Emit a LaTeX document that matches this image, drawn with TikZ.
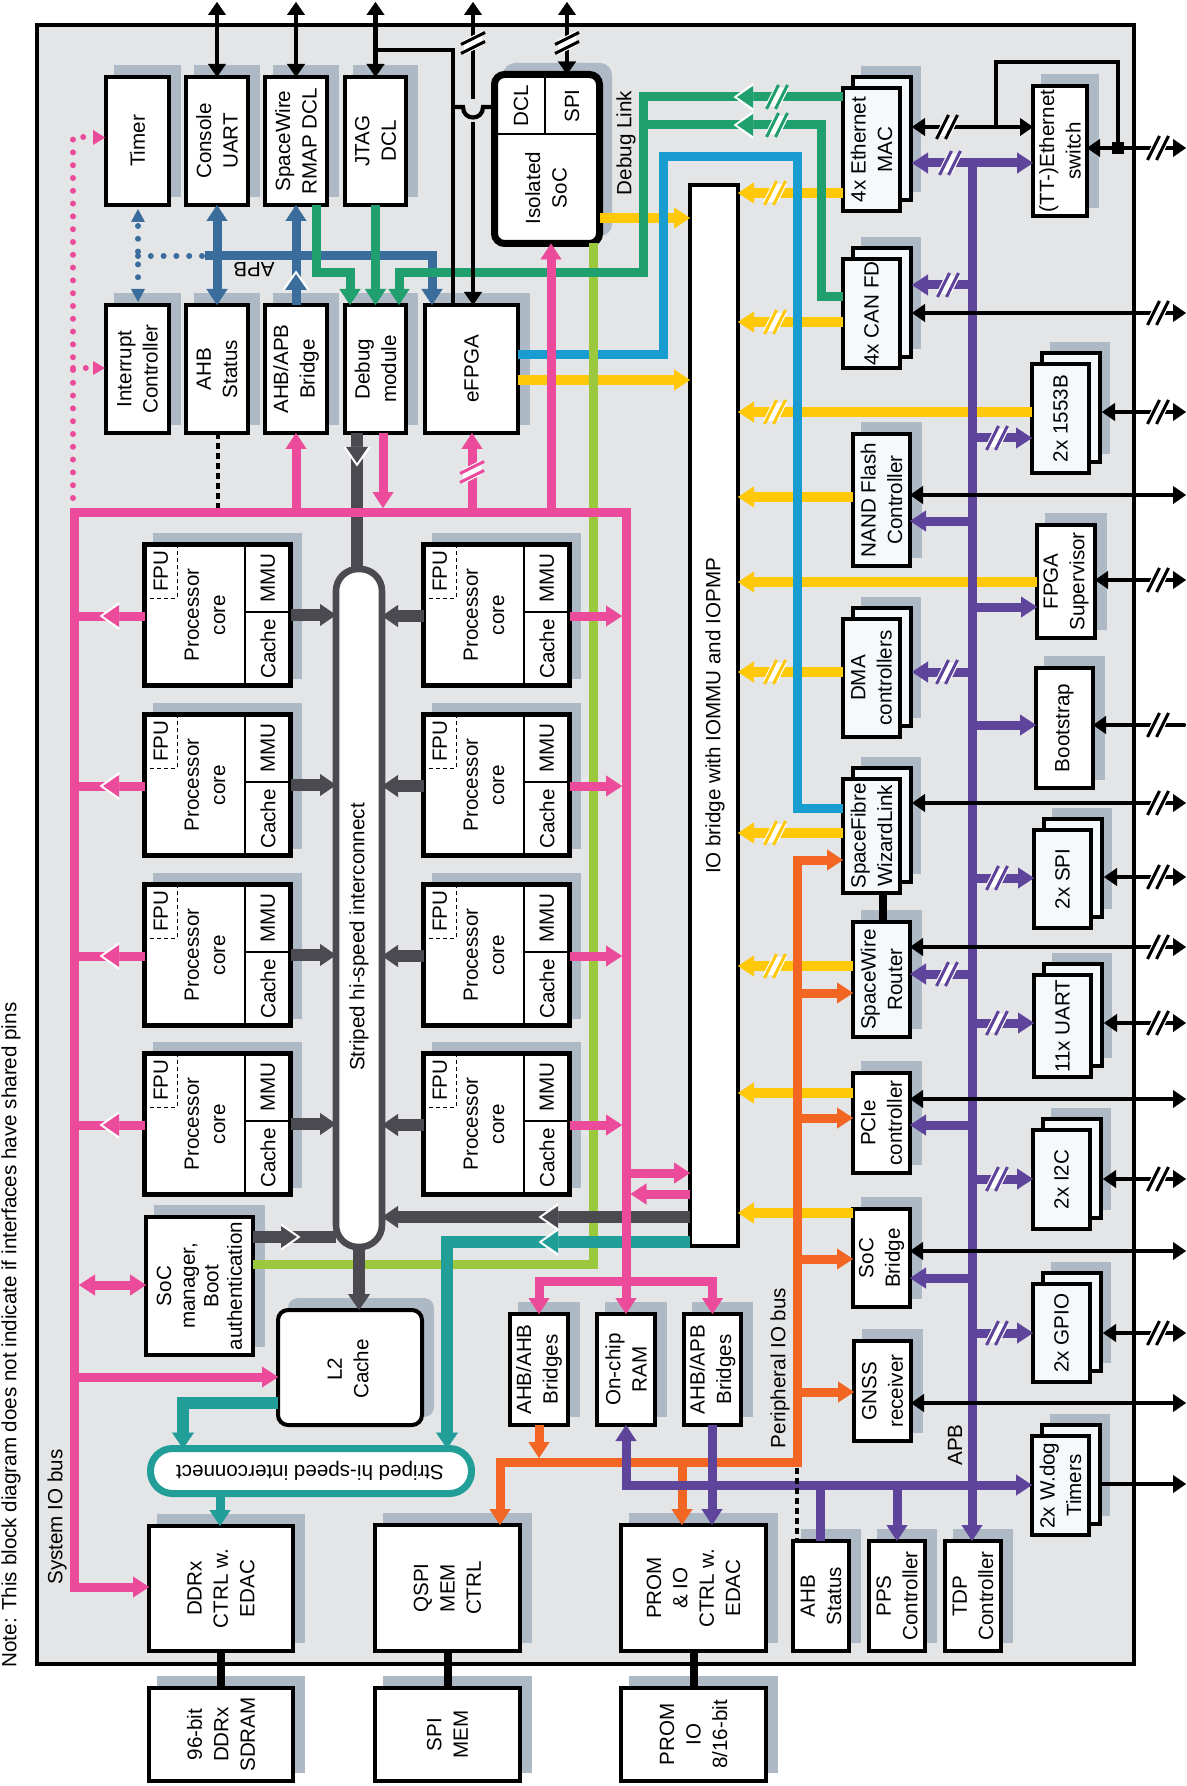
\documentclass[tikz,border=0pt]{standalone}
\usepackage{fontspec}
\setmainfont{Liberation Sans}
\usetikzlibrary{arrows.meta}
\definecolor{chipbg}{HTML}{E4E5E7}
\definecolor{shad}{HTML}{ADBAC6}
\definecolor{pinkc}{HTML}{EC4B9B}
\definecolor{darkc}{HTML}{4A4A50}
\definecolor{limec}{HTML}{9BC83C}
\definecolor{greenc}{HTML}{1FA06E}
\definecolor{cyanc}{HTML}{199DD1}
\definecolor{yelc}{HTML}{FFC808}
\definecolor{orc}{HTML}{F26522}
\definecolor{purc}{HTML}{5F449B}
\definecolor{tealc}{HTML}{229E99}
\definecolor{bluec}{HTML}{3A6D9B}
\definecolor{paleb}{HTML}{F6F9FC}
\newcommand\myfs{\fontsize{10.3}{13.2}\selectfont}
\tikzset{
 Tb/.tip={Triangle[width=10.5pt,length=8pt,line width=0.1pt]},
 Tk/.tip={Triangle[width=9pt,length=6.5pt,line width=0.1pt]},
 Td/.tip={Triangle[width=11pt,length=8pt,line width=0.1pt]},
 bx/.style={draw, line width=2pt, fill=white, inner sep=0pt, outer sep=0pt, anchor=north west},
 lbl/.style={rotate=90, align=center, font=\myfs, inner sep=0pt},
 lblz/.style={align=center, font=\myfs, inner sep=0pt},
 pk/.style={draw=pinkc, line width=4.5pt},
 lm/.style={draw=limec, line width=4.5pt},
 gr/.style={draw=greenc, line width=4.5pt},
 cy/.style={draw=cyanc, line width=4.5pt},
 yl/.style={draw=yelc, line width=5pt},
 bl/.style={draw=bluec, line width=4.5pt},
 dk/.style={draw=darkc, line width=6pt},
 tl/.style={draw=tealc, line width=6pt},
 orn/.style={draw=orc, line width=4.5pt},
 pu/.style={draw=purc, line width=4.5pt},
 bk/.style={draw=black, line width=2.1pt},
 dots/.style={line width=3pt, line cap=round, dash pattern=on 0pt off 6.4pt},
}
% box: name x1 y1 x2 y2 text (outer edges in px)
\newcommand\Bx[7][white]{%
 \fill[shad] (#3+10,#4-10) rectangle (#5+10,#6-10);
 \node[bx, fill=#1, minimum width={(#5-#3-4)*0.5pt}, minimum height={(#6-#4-4)*0.5pt}] (#2) at (#3+2,#4+2) {};
 \node[lbl] (#2-t) at (#2.center) {#7};}
% stacked box
\newcommand\SBx[6]{%
 \fill[shad] (#2+20,#3-20) rectangle (#4+19,#5-21);
 \draw[line width=1.8pt, fill=paleb] (#2+12,#3-9) rectangle (#4+9,#5-13);
 \node[bx, fill=paleb, minimum width={(#4-#2-4)*0.5pt}, minimum height={(#5-#3-4)*0.5pt}] (#1) at (#2+2,#3+2) {};
 \node[lbl] (#1-t) at (#1.center) {#6};}
% processor core
\newcommand\Core[3]{%
 \fill[shad] (#2+11,#3-9) rectangle (#2+160,#3+137);
 \node[bx, line width=2.5pt, minimum width=73pt, minimum height=70.5pt] (#1) at (#2+2.5,#3+2.5) {};
 \draw[line width=0.7pt] (#2+103,#3+3) -- (#2+103,#3+143);
 \draw[line width=0.7pt] (#2+103,#3+70) -- (#2+148,#3+70);
 \draw[line width=0.5pt, dash pattern=on 2pt off 1.5pt] (#2+8,#3+56) -- (#2+35,#3+56) -- (#2+35,#3+4);
 \node[lbl] at (#2+19,#3+29) {FPU};
 \node[lbl] at (#2+63,#3+73) {Processor\\core};
 \node[lbl] at (#2+126,#3+36) {MMU};
 \node[lbl] at (#2+126,#3+107) {Cache};}
% mid arrow heads with white edge
\newcommand\mhL[3]{\fill[white] (#1-3.5,#2) -- (#1+16,#2-14) -- (#1+16,#2+14) -- cycle; \fill[#3] (#1,#2) -- (#1+16,#2-11) -- (#1+16,#2+11) -- cycle;}
\newcommand\mhR[3]{\fill[white] (#1+3.5,#2) -- (#1-16,#2-14) -- (#1-16,#2+14) -- cycle; \fill[#3] (#1,#2) -- (#1-16,#2-11) -- (#1-16,#2+11) -- cycle;}
\newcommand\mhU[3]{\fill[white] (#1,#2-3.5) -- (#1-14,#2+16) -- (#1+14,#2+16) -- cycle; \fill[#3] (#1,#2) -- (#1-11,#2+16) -- (#1+11,#2+16) -- cycle;}
\newcommand\mhD[3]{\fill[white] (#1,#2+3.5) -- (#1-14,#2-16) -- (#1+14,#2-16) -- cycle; \fill[#3] (#1,#2) -- (#1-11,#2-16) -- (#1+11,#2-16) -- cycle;}
% break marks
\newcommand\mkH[3]{\fill[white] (#1-12,#2+9) -- (#1-3,#2-9) -- (#1+12,#2-9) -- (#1+3,#2+9) -- cycle;
 \draw[#3, line width=1.5pt] (#1-10.5,#2+12) -- (#1+1.5,#2-12) (#1-1.5,#2+12) -- (#1+10.5,#2-12);}
\newcommand\mkV[3]{\fill[white] (#1-9,#2+12) -- (#1+9,#2+3) -- (#1+9,#2-12) -- (#1-9,#2-3) -- cycle;
 \draw[#3, line width=1.5pt] (#1-12,#2+1.5) -- (#1+12,#2-10.5) (#1-12,#2+10.5) -- (#1+12,#2-1.5);}

\begin{document}
\begin{tikzpicture}[x=0.5pt,y=-0.5pt]
\useasboundingbox (0,0) rectangle (1187,1786);
% chip
\draw[line width=2.4pt, fill=chipbg] (37,25) rectangle (1134,1664);
\node[lbl] (note) at (11,1335) {Note: This block diagram does not indicate if interfaces have shared pins};

% ---------- top-left blocks
\Bx{timer}{104}{75}{171}{207}{Timer}
\Bx{cuart}{184}{75}{250}{207}{Console\\UART}
\Bx{swdcl}{263}{75}{329}{207}{SpaceWire\\RMAP DCL}
\Bx{jtag}{343}{75}{408}{207}{JTAG\\DCL}
\Bx{irq}{104}{303}{171}{435}{Interrupt\\Controller}
\Bx{ahbsa}{184}{303}{250}{435}{AHB\\Status}
\Bx{apbbr}{263}{303}{329}{435}{AHB/APB\\Bridge}
\Bx{dbg}{343}{303}{408}{435}{Debug\\module}
\Bx{efpga}{423}{303}{520}{435}{eFPGA}

% isolated SoC
\fill[shad, rounded corners=6pt] (503,63) rectangle (612,236);
\node[draw, line width=3.5pt, fill=white, rounded corners=5pt, inner sep=0pt, outer sep=0pt, anchor=north west,
  minimum width=52.5pt, minimum height=84.5pt] (soc) at (494.5,74.5) {};
\draw[line width=0.8pt] (496,134) -- (598,134) (545,76) -- (545,134);
\node[lbl] (socdcl) at (521,106) {DCL};
\node[lbl] (socspi) at (572,106) {SPI};
\node[lbl] (soct) at (546,188) {Isolated\\SoC};
\node[lbl] (dl) at (626,143) {Debug Link};

% IO bridge
\node[bx, minimum width=24pt, minimum height=530.5pt] (iob) at (690,185) {};
\node[lbl] at (715,716) {IO bridge with IOMMU and IOPMP};

% right-hand peripherals
\SBx{mac}{841}{86}{902}{213}{4x Ethernet\\MAC}
\Bx{sw}{1031}{84}{1089}{218}{(TT-)Ethernet\\switch}
\SBx{can}{841}{257}{902}{370}{4x CAN FD}
\SBx{bus1553}{1030}{362}{1091}{475}{2x 1553B}
\Bx[paleb]{nand}{851}{432}{912}{568}{NAND Flash\\Controller}
\Bx{fsup}{1035}{523}{1097}{640}{FPGA\\Supervisor}
\SBx{dma}{841}{617}{902}{739}{DMA\\controllers}
\Bx{boot}{1034}{666}{1095}{790}{Bootstrap}
\SBx{sfib}{841}{777}{902}{895}{SpaceFibre\\WizardLink}
\SBx{spi}{1032}{828}{1093}{930}{2x SPI}
\Bx[paleb]{swr}{851}{920}{912}{1039}{SpaceWire\\Router}
\SBx{uart}{1032}{973}{1093}{1079}{11x UART}
\Bx{pcie}{851}{1071}{912}{1175}{PCIe\\controller}
\SBx{iic}{1031}{1128}{1092}{1231}{2x I2C}
\Bx{socb}{851}{1207}{912}{1309}{SoC\\Bridge}
\SBx{gpio}{1031}{1282}{1092}{1384}{2x GPIO}
\Bx{gnss}{852}{1339}{913}{1443}{GNSS\\receiver}
\SBx{wdog}{1030}{1434}{1091}{1537}{2x W.dog\\Timers}
\Bx{ahbsb}{791}{1539}{851}{1653}{AHB\\Status}
\Bx{pps}{867}{1539}{927}{1653}{PPS\\Controller}
\Bx{tdp}{943}{1539}{1003}{1653}{TDP\\Controller}

% bottom blocks
\Bx{ahbahb}{508}{1312}{570}{1427}{AHB/AHB\\Bridges}
\Bx{ocram}{595}{1312}{657}{1427}{On-chip\\RAM}
\Bx{ahbapb}{682}{1312}{743}{1427}{AHB/APB\\Bridges}
\Bx{ddr}{147}{1524}{295}{1653}{DDRx\\CTRL w.\\EDAC}
\Bx{qspi}{373}{1523}{522}{1653}{QSPI\\MEM\\CTRL}
\Bx{prom}{619}{1523}{768}{1653}{PROM\\\& IO\\CTRL w.\\EDAC}
\Bx{sdram}{147}{1686}{295}{1783}{96-bit\\DDRx\\SDRAM}
\Bx{spimem}{373}{1686}{522}{1783}{SPI\\MEM}
\Bx{promio}{619}{1686}{768}{1783}{PROM\\IO\\8/16-bit}

% SoC manager
\fill[shad] (154,1205) rectangle (265,1347);
\node[bx, minimum width=53.5pt, minimum height=69pt] (socm) at (146,1217) {};
\node[lbl, font=\fontsize{10.3}{11.8}\selectfont] (socm-t) at (socm.center) {SoC\\manager,\\Boot\\authentication};

% L2 cache
\fill[shad, rounded corners=5pt] (288,1298) rectangle (434,1417);
\node[draw, line width=2pt, fill=white, rounded corners=5pt, inner sep=0pt, outer sep=0pt, anchor=north west,
  minimum width=72pt, minimum height=57.5pt] (l2) at (278,1310) {};
\node[lbl] (l2-t) at (348,1369) {L2\\Cache};

% interconnect pills
\node[draw=darkc, line width=3.3pt, fill=white, rounded corners=11pt, inner sep=0pt, outer sep=0pt, anchor=north west,
  minimum width=23pt, minimum height=339pt] (hsi) at (336,569) {};
\node[lbl] (hsi-t) at (359,937) {Striped hi-speed interconnect};
\node[draw=tealc, line width=3.5pt, fill=white, rounded corners=11pt, inner sep=0pt, outer sep=0pt, anchor=north west,
  minimum width=160.5pt, minimum height=22.5pt] (phsi) at (150.5,1448.5) {};
\node[lblz, rotate=180] (phsi-t) at (310,1471) {Striped hi-speed interconnect};

% processor cores
\Core{c1}{142}{542}\Core{c2}{142}{712}\Core{c3}{142}{882}\Core{c4}{142}{1051}
\Core{c5}{421}{542}\Core{c6}{421}{712}\Core{c7}{421}{882}\Core{c8}{421}{1051}

% ---------- yellow
\draw[yl, -{Tb}] (soc.east |- 0,218) -- (iob.west |- 0,218);
\draw[yl, -{Tb}] (efpga.east |- 0,380) -- (iob.west |- 0,380);
\foreach \nm/\yy in {mac/193,can/322,bus1553/412,nand/497,fsup/582,dma/672,sfib/833,swr/966,pcie/1093,socb/1213}
  {\draw[yl, -{Tb}] (\nm.west |- 0,\yy) -- (iob.east |- 0,\yy);}
\foreach \yy in {193,322,412,672,833,966} {\mkH{775}{\yy}{yelc}}

% ---------- cyan
\draw[cy] (efpga.east |- 0,355) -- (663,355) -- (663,157) -- (797,157) -- (797,808) -- (sfib.west |- 0,808);

% ---------- lime
\draw[lm] (593,0 |- soc.south) -- (593,1264) -- (socm.east |- 0,1264);

% ---------- blue APB
\draw[bl, -{Tb}] (205,256) -- (432,256) -- (432,0 |- efpga.north);
\draw[bl, {Tb}-{Tb}] (cuart.south) -- (ahbsa.north);
\draw[bl, -{Tb}] (296,256) -- (swdcl.south);
\draw[bl] (apbbr.north) -- (296,256);
\mhU{296}{274}{bluec}
\draw[bluec, dots] (138,226) -- (138,287) (138,256) -- (203,256);
\fill[bluec] (131,222) -- (138,209) -- (145,222) -- cycle;
\fill[bluec] (131,289) -- (138,302) -- (145,289) -- cycle;
\node[lblz, rotate=180] (apbt) at (254,270) {APB};

% ---------- green
\draw[gr, -{Tb}] (316,0 |- swdcl.south) -- (316,273) -- (350,273) -- (350,0 |- dbg.north);
\draw[gr, -{Tb}] (jtag.south) -- (dbg.north);
\draw[gr, -{Tb}] (mac.west |- 0,97) -- (643,97) -- (643,273) -- (399,273) -- (399,0 |- dbg.north);
\draw[gr] (can.west |- 0,297) -- (821,297) -- (821,125) -- (643,125);
\mhL{737}{97}{greenc}\mhL{737}{125}{greenc}
\mkH{777}{97}{greenc}\mkH{777}{125}{greenc}

% ---------- dark grey (interconnect)
\draw[dk] (357,0 |- dbg.south) -- (357,0 |- hsi.north);
\mhD{357}{463}{darkc}
\draw[dk] (socm.east |- 0,1237) -- (hsi.west |- 0,1237);
\mhR{297}{1237}{darkc}
\draw[dk, -{Td}] (iob.west |- 0,1217) -- (hsi.east |- 0,1217);
\mhL{542}{1217}{darkc}
\draw[dk, -{Td}] (359,0 |- hsi.south) -- (359,0 |- l2.north);
\foreach \nm/\yy in {c1/542,c2/712,c3/882,c4/1051}
  {\draw[dk, -{Td}] (\nm.east |- 0,\yy+73) -- (hsi.west |- 0,\yy+73);}
\foreach \nm/\yy in {c5/542,c6/712,c7/882,c8/1051}
  {\draw[dk, -{Td}] (\nm.west |- 0,\yy+74) -- (hsi.east |- 0,\yy+74);}

% ---------- teal
\draw[tl, -{Td}] (iob.west |- 0,1242) -- (447,1242) -- (447,0 |- phsi.north);
\mhL{542}{1242}{tealc}
\draw[tl, -{Td}] (l2.west |- 0,1403) -- (183,1403) -- (183,0 |- phsi.north);
\draw[tl, line width=4.5pt, -{Tb}] (220,0 |- phsi.south) -- (220,0 |- ddr.north);

% ---------- orange (peripheral IO bus)
\draw[orn, {Tb}-{Tb}] (sfib.west |- 0,860) -- (797,860) -- (797,1462) -- (500,1462) -- (500,0 |- qspi.north);
\foreach \nm/\yy in {swr/993,pcie/1118,socb/1259,gnss/1392}
  {\draw[orn, -{Tb}] (797,\yy) -- (\nm.west |- 0,\yy);}
\draw[orn, -{Tb}] (682,1462) -- (682,0 |- prom.north);
\draw[orn, -{Tb}] (539,0 |- ahbahb.south) -- (539,1458);
\node[lbl] (piob) at (780,1368) {Peripheral IO bus};

% ---------- purple (APB)
\draw[pu, -{Tb}] (972,163) -- (972,0 |- tdp.north);
\draw[pu, {Tb}-{Tb}] (912,163) -- (sw.west |- 0,163);
\draw[pu, -{Tb}] (972,285) -- (912,285);
\draw[pu, -{Tb}] (972,672) -- (912,672);
\foreach \nm/\yy in {nand/521,swr/974,pcie/1125,socb/1278}
  {\draw[pu, -{Tb}] (972,\yy) -- (\nm.east |- 0,\yy);}
\foreach \nm/\yy in {bus1553/438,fsup/607,boot/725,spi/878,uart/1023,iic/1179,gpio/1333}
  {\draw[pu, -{Tb}] (972,\yy) -- (\nm.west |- 0,\yy);}
\draw[pu, {Tb}-{Tb}] (ocram.south) -- (626,1485) -- (wdog.west |- 0,1485);
\draw[pu, -{Tb}] (712,0 |- ahbapb.south) -- (712,0 |- prom.north);
\draw[pu] (820,1485) -- (820,0 |- ahbsb.north);
\draw[pu, -{Tb}] (897,1485) -- (pps.north);
\mkH{950}{163}{purc}\mkH{948}{285}{purc}\mkH{947}{672}{purc}\mkH{947}{974}{purc}
\foreach \yy in {438,878,1023,1179,1333} {\mkH{997}{\yy}{purc}}
\node[lbl] (apbb) at (955,1445) {APB};

% ---------- pink (system IO bus)
\draw[pk, {Tb}-{Tb}] (ocram.north) -- (626,512) -- (74,512) -- (74,1587) -- (ddr.west |- 0,1587);
\draw[pk, -{Tb}] (74,1377) -- (l2.west |- 0,1377);
\draw[pk, {Tb}-{Tb}] (79,1285) -- (socm.west |- 0,1285);
\draw[pk, {Tb}-{Tb}] (ahbahb.north) -- (539,1281) -- (712.5,1281) -- (ahbapb.north);
\draw[pk, -{Tb}] (626,1173) -- (iob.west |- 0,1173);
\draw[pk, -{Tb}] (iob.west |- 0,1194) -- (630.5,1194);
\draw[pk, -{Tb}] (296,512) -- (apbbr.south);
\draw[pk, -{Tb}] (383,0 |- dbg.south) -- (383,508);
\draw[pk, -{Tb}] (472,512) -- (472,0 |- efpga.south);
\mkV{472}{472}{pinkc}
\draw[pk, -{Tb}] (551,512) -- (551,0 |- soc.south);
\foreach \nm/\yy in {c1/542,c2/712,c3/882,c4/1051}
  {\draw[pk] (\nm.west |- 0,\yy+74) -- (78,\yy+74); \mhL{103}{\yy+74}{pinkc}}
\foreach \nm/\yy in {c5/542,c6/712,c7/882,c8/1051}
  {\draw[pk, -{Tb}] (\nm.east |- 0,\yy+74) -- (622,\yy+74);}
\draw[pinkc, dots] (73,498) -- (73,137) -- (88,137) (73,368) -- (86,368);
\fill[pinkc] (93,130) -- (105,137.5) -- (93,145) -- cycle;
\fill[pinkc] (93,361) -- (105,368) -- (93,375) -- cycle;
\node[lbl] (sysb) at (57,1517) {System IO bus};

% ---------- black
\draw[bk, {Tk}-{Tk}] (217,2) -- (cuart.north);
\draw[bk, {Tk}-{Tk}] (296,2) -- (swdcl.north);
\draw[bk, {Tk}-{Tk}] (375.5,2) -- (jtag.north);
\draw[bk] (375.5,50) -- (453,50) -- (453,0 |- efpga.north);
\draw[bk] (453,107) -- (463,107) .. controls (463,121) and (483,121) .. (483,107) -- (soc.west |- 0,107);
\draw[bk, {Tk}-] (473,2) -- (473,99);
\draw[bk, -{Tk}] (473,122) -- (473,0 |- efpga.north);
\draw[bk, {Tk}-{Tk}] (567,2) -- (567,0 |- soc.north);
\mkV{473}{43}{black}\mkV{567}{43}{black}

\draw[bk, {Tk}-{Tk}] (912,127) -- (sw.west |- 0,127);
\draw[bk] (996,127) -- (996,62) -- (1118,62) -- (1118,148);
\fill (1112,142) rectangle (1124,154);
\draw[bk, {Tk}-{Tk}] (sw.east |- 0,148) -- (1186,148);
\draw[bk, {Tk}-{Tk}] (912,313) -- (1186,313);
\draw[bk, {Tk}-{Tk}] (1102,412) -- (1186,412);
\draw[bk, {Tk}-{Tk}] (nand.east |- 0,495) -- (1186,495);
\draw[bk, {Tk}-{Tk}] (fsup.east |- 0,580) -- (1186,580);
\draw[bk, line cap=round, {Tk}-] (boot.east |- 0,725) -- (1184,725);
\draw[bk, {Tk}-{Tk}] (912,803) -- (1186,803);
\draw[bk, {Tk}-{Tk}] (1104,877) -- (1186,877);
\draw[bk, {Tk}-{Tk}] (swr.east |- 0,947) -- (1186,947);
\draw[bk, {Tk}-{Tk}] (1104,1023) -- (1186,1023);
\draw[bk, {Tk}-{Tk}] (pcie.east |- 0,1099) -- (1186,1099);
\draw[bk, {Tk}-{Tk}] (1103,1179) -- (1186,1179);
\draw[bk, {Tk}-{Tk}] (socb.east |- 0,1251) -- (1186,1251);
\draw[bk, {Tk}-{Tk}] (1103,1333) -- (1186,1333);
\draw[bk, {Tk}-{Tk}] (gnss.east |- 0,1403) -- (1186,1403);
\draw[bk, -{Tk}] (1102,1484) -- (1186,1484);
\mkH{947}{127}{black}
\foreach \yy in {148,313,412,580,725,803,877,947,1023,1179,1333} {\mkH{1158}{\yy}{black}}

\draw[black, line width=1.6pt, dash pattern=on 3pt off 2pt] (218,0 |- ahbsa.south) -- (218,508);
\draw[black, line width=1.6pt, dash pattern=on 3pt off 2pt] (797,1468) -- (797,0 |- ahbsb.north);

\draw[line width=4pt] (ddr.south) -- (sdram.north);
\draw[line width=4pt] (qspi.south) -- (spimem.north);
\draw[line width=4pt] (prom.south) -- (promio.north);
\draw[line width=4pt] (883,0 |- sfib.south) -- (883,0 |- swr.north);
\end{tikzpicture}
\end{document}
